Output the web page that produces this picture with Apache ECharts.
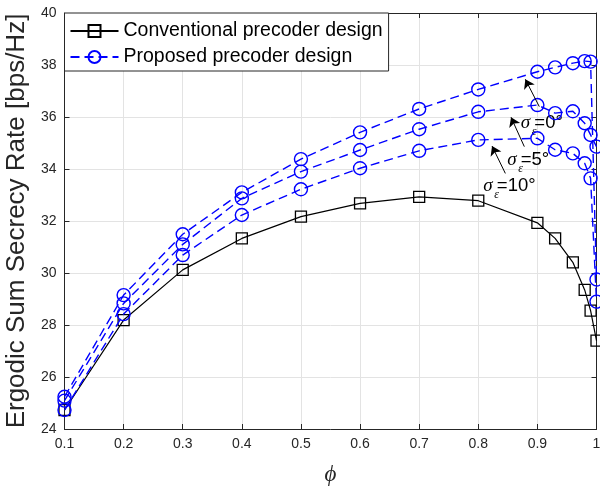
<!DOCTYPE html>
<html>
<head>
<meta charset="utf-8">
<script src="https://cdn.jsdelivr.net/npm/echarts@6/dist/echarts.min.js"></script>
<style>
  html, body { margin: 0; padding: 0; background: #fff; }
  #chart { width: 600px; height: 489px; }
</style>
</head>
<body>
<div id="chart"></div>
<script>
// Correlation factor phi on the horizontal axis
const phi = [0.1, 0.2, 0.3, 0.4, 0.5, 0.6, 0.7, 0.8, 0.9, 0.93, 0.96, 0.98, 0.99, 1.0];

// Ergodic sum secrecy rate [bps/Hz]
const conventional = [24.73, 28.19, 30.12, 31.33, 32.17, 32.68, 32.93, 32.78, 31.93, 31.33, 30.41, 29.35, 28.55, 27.40];
const proposedSigma0 = [25.24, 29.15, 31.49, 33.10, 34.38, 35.41, 36.31, 37.06, 37.74, 37.91, 38.07, 38.15, 38.13, 29.75];
const proposedSigma5 = [25.09, 28.83, 31.10, 32.87, 33.90, 34.73, 35.53, 36.20, 36.46, 36.15, 36.22, 35.76, 35.31, 34.86];
const proposedSigma10 = [24.73, 28.42, 30.69, 32.23, 33.22, 34.03, 34.70, 35.12, 35.18, 34.74, 34.60, 34.22, 33.64, 28.90];

// Axis ticks
const xTickLabels = ['0.1', '0.2', '0.3', '0.4', '0.5', '0.6', '0.7', '0.8', '0.9', '1'];
const yTickLabels = ['24', '26', '28', '30', '32', '34', '36', '38', '40'];

const CONV_NAME = 'Conventional precoder design';
const PROP_NAME = 'Proposed precoder design';

const axisColor = '#262626';
const gridColor = '#e3e3e3';
const sans = '"Liberation Sans", Arial, Helvetica, sans-serif';
const serif = '"Liberation Serif", "DejaVu Serif", "Times New Roman", serif';

function pairs(ys) { return phi.map((x, i) => [x, ys[i]]); }

const xMin = parseFloat(xTickLabels[0]);
const xMax = parseFloat(xTickLabels[xTickLabels.length - 1]);
const yMin = parseFloat(yTickLabels[0]);
const yMax = parseFloat(yTickLabels[yTickLabels.length - 1]);

function xLabel(v) {
  const i = Math.round((v - xMin) / 0.1);
  return xTickLabels[i] !== undefined ? xTickLabels[i] : '';
}
function yLabel(v) {
  const i = Math.round((v - yMin) / 2);
  return yTickLabels[i] !== undefined ? yTickLabels[i] : '';
}

const baseX = {
  type: 'value', min: xMin, max: xMax, interval: 0.1,
  axisLine: { show: true, onZero: false, lineStyle: { color: axisColor, width: 1 } },
  axisTick: { show: true, inside: true, length: 5, lineStyle: { color: axisColor } }
};
const baseY = {
  type: 'value', min: yMin, max: yMax, interval: 2,
  axisLine: { show: true, onZero: false, lineStyle: { color: axisColor, width: 1 } },
  axisTick: { show: true, inside: true, length: 5, lineStyle: { color: axisColor } }
};

function proposedSeries(data) {
  return {
    type: 'line', name: PROP_NAME, data: pairs(data),
    symbol: 'circle', symbolSize: 13,
    lineStyle: { color: '#0000ff', width: 1.4, type: [9, 5] },
    itemStyle: { color: 'rgba(255,255,255,0)', borderColor: '#0000ff', borderWidth: 1.4 },
    emphasis: { disabled: true }, z: 3
  };
}

// Arrows pointing from each label to its curve
const arrowLines = [
  { coords: [[0.9032, 36.40], [0.8796, 37.45]] },
  { coords: [[0.8779, 34.86], [0.8554, 35.99]] },
  { coords: [[0.8458, 33.83], [0.8233, 34.88]] }
];

const option = {
  backgroundColor: '#fff',
  animation: false,
  grid: { left: 64.5, right: 3.5, top: 13, bottom: 60, containLabel: false, outerBoundsMode: 'none' },
  xAxis: [
    Object.assign({}, baseX, {
      position: 'bottom',
      name: 'ϕ', nameLocation: 'middle', nameGap: 34,
      nameTextStyle: { fontFamily: serif, fontStyle: 'italic', fontSize: 23, color: axisColor },
      axisLabel: { show: true, margin: 8, fontSize: 14, fontFamily: sans, color: axisColor, formatter: xLabel },
      splitLine: { show: true, lineStyle: { color: gridColor, width: 1 } }
    }),
    Object.assign({}, baseX, {
      position: 'top', axisLabel: { show: false }, splitLine: { show: false }
    })
  ],
  yAxis: [
    Object.assign({}, baseY, {
      position: 'left',
      name: 'Ergodic Sum Secrecy Rate [bps/Hz]', nameLocation: 'middle', nameGap: 33,
      nameTextStyle: { fontFamily: sans, fontSize: 26, color: axisColor },
      axisLabel: { show: true, margin: 8, fontSize: 14, fontFamily: sans, color: axisColor, formatter: yLabel },
      splitLine: { show: true, lineStyle: { color: gridColor, width: 1 } }
    }),
    Object.assign({}, baseY, {
      position: 'right', axisLabel: { show: false }, splitLine: { show: false }
    })
  ],
  legend: {
    data: [CONV_NAME, PROP_NAME],
    orient: 'vertical', left: 64.5, top: 13,
    padding: [8, 6, 4, 5], itemGap: 6, itemWidth: 48, itemHeight: 15,
    backgroundColor: '#fff', borderColor: axisColor, borderWidth: 1,
    textStyle: { fontFamily: sans, fontSize: 19.5, color: '#000' },
    selectedMode: false
  },
  series: [
    {
      type: 'line', name: CONV_NAME, data: pairs(conventional),
      symbol: 'rect', symbolSize: 11,
      lineStyle: { color: '#000', width: 1.2 },
      itemStyle: { color: 'rgba(255,255,255,0)', borderColor: '#000', borderWidth: 1.3 },
      emphasis: { disabled: true }, z: 2
    },
    proposedSeries(proposedSigma0),
    proposedSeries(proposedSigma5),
    proposedSeries(proposedSigma10),
    {
      type: 'lines', coordinateSystem: 'cartesian2d',
      symbol: ['none', 'arrow'], symbolSize: [0, 9],
      lineStyle: { color: '#000', width: 1, opacity: 1 },
      data: arrowLines, z: 4, silent: true
    }
  ]
};

const chart = echarts.init(document.getElementById('chart'), null, { renderer: 'canvas' });
chart.setOption(option);

// Curve labels: sigma with subscript epsilon, then the value
const curveLabels = [
  { value: '=0°', at: [0.872, 35.76] },
  { value: '=5°', at: [0.849, 34.34] },
  { value: '=10°', at: [0.8086, 33.34] }
];

const graphics = curveLabels.map(lab => {
  const p = chart.convertToPixel({ gridIndex: 0 }, lab.at);
  return {
    type: 'group', x: p[0], y: p[1], z: 10, silent: true,
    children: [
      { type: 'text', x: 0, y: 0, style: { text: 'σ', font: 'italic 19px ' + serif, fill: '#000', align: 'left', verticalAlign: 'middle' } },
      { type: 'text', x: 11, y: 9, style: { text: 'ε', font: 'italic 12px ' + serif, fill: '#000', align: 'left', verticalAlign: 'middle' } },
      { type: 'text', x: 13.5, y: 0, style: { text: lab.value, font: '18.5px ' + sans, fill: '#000', align: 'left', verticalAlign: 'middle' } }
    ]
  };
});
chart.setOption({ graphic: graphics });
</script>
</body>
</html>
